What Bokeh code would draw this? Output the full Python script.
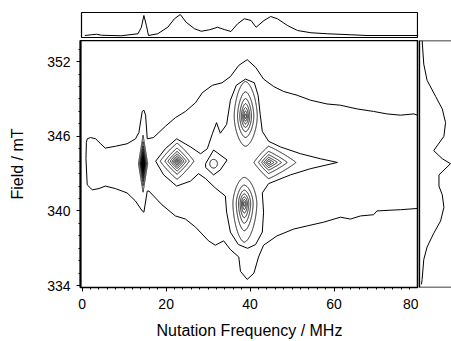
import numpy as np
from bokeh.plotting import figure
from bokeh.layouts import column, row
from bokeh.models import FixedTicker, Range1d
from bokeh.embed import file_html
from bokeh.resources import INLINE

# ---------------- data ----------------
x_ticks = [0, 20, 40, 60, 80]
x_minor = list(range(0, 81, 2))
y_ticks = [334, 340, 346, 352]
y_minor = list(range(334, 354))

# outermost contour (open at the 80 MHz edge)
outer_x = [79.8, 79.0, 75.8, 72.6, 69.4, 65.5, 61.5, 58.3, 54.4, 51.2, 48.0, 45.6, 43.2, 41.3, 39.3,
           37.3, 35.3, 33.3, 31.0, 28.6, 27.0, 24.6, 22.2, 19.8, 17.0, 15.5, 15.1, 14.7, 14.3, 13.5,
           12.7, 10.7, 7.9, 5.5, 4.4, 3.2, 2.0, 1.2, 1.0, 0.9, 1.2, 2.4, 4.0, 5.5, 7.9, 10.7, 12.7,
           14.3, 14.7, 15.5, 15.9, 19.0, 22.2, 24.6, 27.0, 30.1, 31.7, 33.7, 35.3, 37.3, 37.7, 39.3,
           40.9, 42.0, 43.2, 46.4, 50.4, 53.6, 57.5, 61.5, 63.9, 66.3, 69.4, 70.2, 72.6, 75.8, 79.8]
outer_y = [347.7, 347.8, 347.7, 347.8, 348.0, 348.2, 348.5, 348.6, 348.9, 349.3, 349.6, 350.0, 350.6, 351.55, 352.16,
           351.7, 350.8, 350.3, 350.1, 349.5, 348.7, 348.0, 347.5, 346.8, 345.9, 345.8, 347.7, 348.1, 348.0, 346.3,
           345.8, 345.4, 345.2, 345.05, 345.4, 345.8, 345.9, 345.8, 345.5, 344.2, 342.1, 341.7, 341.8, 342.0, 341.8, 341.45, 340.8,
           340.0, 339.9, 341.6, 341.6, 340.5, 339.6, 339.35, 338.7, 337.6, 337.25, 337.6, 336.9, 336.3, 335.15, 334.5,
           335.0, 336.3, 337.25, 338.0, 338.55, 338.8, 339.1, 339.5, 339.35, 339.6, 339.7, 340.0, 340.05, 340.1, 340.2]

# second contour (closed, cross shaped)
inner_x = [17.5, 19.8, 22.5, 25.8, 28.2, 29.8, 31.0, 32.0, 32.9, 34.4, 35.3, 36.7, 38.9, 41.0, 41.9, 42.4,
           42.9, 44.4, 47.2, 52.0, 56.7, 60.8, 54.4, 49.6, 44.4, 42.9, 43.2, 42.9, 41.3, 39.4, 37.2, 35.3,
           34.4, 34.1, 31.7, 29.4, 27.7, 25.8, 22.5, 19.4, 17.5]
inner_y = [344.0, 345.0, 345.8, 345.15, 344.6, 345.0, 346.2, 347.1, 346.25, 346.95, 348.9, 350.1, 350.6, 350.3, 349.3, 347.75,
           346.4, 345.6, 345.15, 344.6, 344.2, 343.9, 343.4, 342.9, 342.2, 341.45, 339.9, 338.3, 337.3, 337.0, 337.3, 338.3,
           339.9, 341.2, 341.85, 342.6, 343.0, 342.4, 342.0, 342.9, 344.0]

# small diamond-shaped contour round the weak 31 MHz feature
mid_x = [29.4, 31.3, 34.5, 32.9, 31.3, 29.4, 29.4]
mid_y = [343.8, 344.9, 344.1, 343.3, 342.9, 343.5, 343.8]

# peaks: centre, amplitude, extent of the outermost ring of each peak, ring shape
peak_x = [14.5, 22.6, 38.9, 38.6, 44.4, 31.3]
peak_y = [343.8, 344.0, 347.6, 340.6, 343.9, 343.8]
peak_amp = [14.0, 9.5, 8.5, 8.5, 7.5, 2.0]
peak_left = [1.1, 4.0, 2.7, 2.7, 3.5, 0.9]
peak_right = [1.1, 4.0, 2.8, 3.0, 6.5, 0.9]
peak_down = [2.3, 1.45, 2.4, 3.1, 1.3, 0.35]
peak_up = [2.3, 1.45, 2.8, 2.1, 1.3, 0.35]
peak_shape = [1.0, 1.1, 1.7, 1.7, 1.1, 2.0]
ring_levels = [1.5, 2.5, 3.5, 4.5, 5.5, 6.5, 7.5, 8.5, 9.5, 10.5, 11.5, 12.5, 13.5]

# projection on top (nutation frequency)
top_x = [0.4, 2.0, 3.2, 4.4, 9.1, 13.1, 13.9, 14.5, 15.1, 15.6, 17.8, 20.2, 21.8, 23.2, 24.6, 26.6, 28.2,
         30.2, 32.1, 33.7, 35.3, 36.9, 38.5, 40.1, 41.3, 43.2, 44.8, 46.4, 48.8, 51.2, 54.4, 58.3, 63.9,
         67.8, 79.8]
top_i = [0.08, 0.11, 0.13, 0.09, 0.07, 0.15, 0.41, 0.88, 0.48, 0.08, 0.15, 0.41, 0.75, 0.92, 0.61, 0.35, 0.25,
         0.31, 0.41, 0.32, 0.24, 0.55, 0.75, 0.68, 0.41, 0.68, 0.84, 0.75, 0.48, 0.28, 0.19, 0.15, 0.11,
         0.08, 0.08]

# projection on the right (field)
right_y = [353.7, 351.8, 350.5, 349.2, 348.2, 347.1, 346.0, 344.85, 344.2, 343.8, 342.9, 342.0, 341.3,
           340.3, 339.2, 338.2, 337.1, 336.1, 334.5, 334.1]
right_i = [0.11, 0.16, 0.26, 0.52, 0.72, 0.82, 0.77, 0.46, 0.72, 0.97, 0.62, 0.62, 0.72,
           0.77, 0.67, 0.46, 0.26, 0.16, 0.11, 0.09]

FONT = "Liberation Sans"

xr = Range1d(-0.4, 80.1)
yr = Range1d(333.85, 353.7)

# ---------------- main contour plot ----------------
main = figure(width=418, height=301, x_range=xr, y_range=yr, output_backend="svg",
              toolbar_location=None, min_border_left=80, min_border_right=0,
              min_border_top=0, min_border_bottom=51)
main.grid.visible = False
main.outline_line_color = "black"
main.outline_line_width = 1.5

main.line(outer_x, outer_y, line_color="black", line_width=1)
main.line(inner_x, inner_y, line_color="black", line_width=1)
main.line(mid_x, mid_y, line_color="black", line_width=1)

for cx, cy, a, l, r, d, u, q in zip(peak_x, peak_y, peak_amp, peak_left, peak_right,
                                     peak_down, peak_up, peak_shape):
    r_out = np.log(a / ring_levels[0])
    gx = np.linspace(cx - 1.3 * max(l, r), cx + 1.3 * max(l, r), 260)
    gy = np.linspace(cy - 1.3 * max(d, u), cy + 1.3 * max(d, u), 260)
    X, Y = np.meshgrid(gx, gy)
    dx = X - cx
    dy = Y - cy
    sx = np.where(dx < 0, l, r) / r_out
    sy = np.where(dy < 0, d, u) / r_out
    rr = (np.abs(dx / sx) ** q + np.abs(dy / sy) ** q) ** (1.0 / q)
    Z = a * np.exp(-rr)
    lv = [v for v in ring_levels if v < a]
    main.contour(gx, gy, Z, lv, line_color="black", line_width=0.9)

for ax in (main.xaxis[0], main.yaxis[0]):
    ax.major_label_text_font = FONT
    ax.major_label_text_font_size = "14px"
    ax.major_label_text_color = "black"
    ax.axis_label_text_font = FONT
    ax.axis_label_text_font_size = "16px"
    ax.axis_label_text_font_style = "normal"
    ax.axis_label_text_color = "black"
    ax.axis_line_color = "black"
    ax.major_tick_line_color = "black"
    ax.minor_tick_line_color = "black"
    ax.major_tick_in = 0
    ax.major_tick_out = 4
    ax.minor_tick_in = 0
    ax.minor_tick_out = 2

main.xaxis.ticker = FixedTicker(ticks=x_ticks, minor_ticks=x_minor)
main.yaxis.ticker = FixedTicker(ticks=y_ticks, minor_ticks=y_minor)
main.xaxis.axis_label = "Nutation Frequency / MHz"
main.yaxis.axis_label = "Field / mT"
main.yaxis.axis_line_width = 2
main.xaxis.major_label_standoff = 7
main.xaxis.axis_label_standoff = 10
main.yaxis.major_label_standoff = 6
main.yaxis.axis_label_standoff = 18

# ---------------- top projection ----------------
top = figure(width=418, height=40, x_range=xr, y_range=Range1d(0, 1.0), output_backend="svg",
             toolbar_location=None, x_axis_location=None, y_axis_location=None,
             min_border_left=81, min_border_right=0, min_border_top=12, min_border_bottom=3)
top.grid.visible = False
top.outline_line_color = "black"
top.outline_line_width = 1.2
top.line(top_x, top_i, line_color="black", line_width=1)

# ---------------- right projection ----------------
right = figure(width=33, height=301, x_range=Range1d(0, 1.0), y_range=yr, output_backend="svg",
               toolbar_location=None, x_axis_location=None, y_axis_location=None,
               min_border_left=0, min_border_right=0, min_border_top=0, min_border_bottom=51)
right.grid.visible = False
right.outline_line_color = None
right.line(right_i, right_y, line_color="black", line_width=1)
right.line([0.0, 1.0], [yr.end, yr.end], line_color="black", line_width=1.5)
right.line([0.0, 1.0], [yr.start, yr.start], line_color="black", line_width=1.5)
right.line([0.02, 0.02], [yr.start, yr.end], line_color="black", line_width=2)

layout = column(top, row(main, right, spacing=0), spacing=0)

open("out.html", "w").write(file_html(layout, INLINE))
